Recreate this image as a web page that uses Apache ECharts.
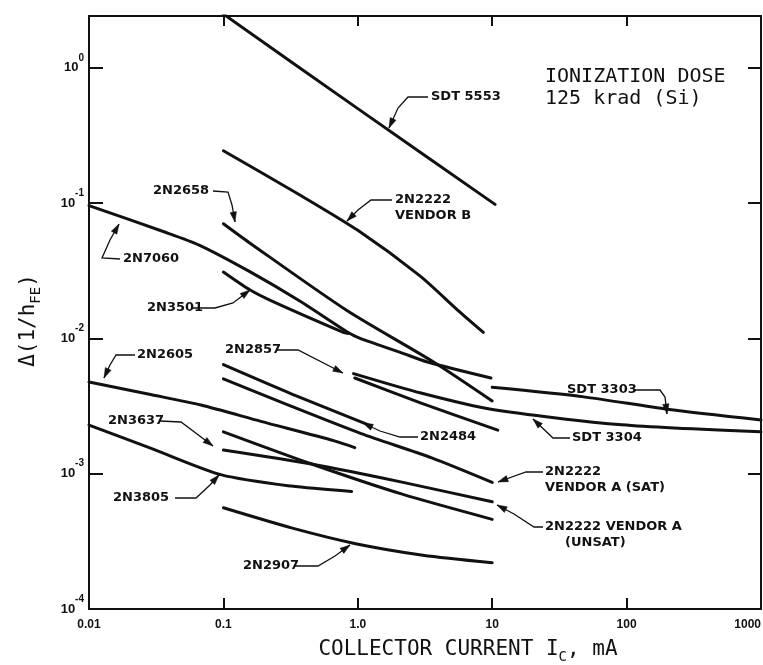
<!DOCTYPE html>
<html><head><meta charset="utf-8">
<script src="https://cdn.jsdelivr.net/npm/echarts@6/dist/echarts.min.js"></script>
<style>html,body{margin:0;padding:0;background:#fff}#c{width:763px;height:665px}</style>
</head><body><div id="c"></div>
<script>
// ---- tick labels ----
const xTickLabels = {'-2':'0.01','-1':'0.1','0':'1.0','1':'10','2':'100','3':'1000'};
const yTickExponents = {'-4':'-4','-3':'-3','-2':'-2','-1':'-1','0':'0'};

// ---- curves: [collector current mA, delta(1/hFE)] ----
const sdt5553      = [[0.1,2.5],[1,0.50],[10.5,0.098]];
const n2222VendorB = [[0.1,0.244],[0.36,0.117],[1.0,0.063],[2.9,0.029],[5.5,0.0163],[8.6,0.0111]];
const n2658        = [[0.1,0.0705],[0.155,0.0513],[0.83,0.0161],[3.66,0.0067],[10,0.00345]];
const n7060        = [[0.01,0.096],[0.037,0.061],[0.066,0.049],[0.156,0.0313],[0.37,0.0189],[0.83,0.0112],[1.04,0.0100],[2.07,0.0079],[3.3,0.0067],[9.8,0.0051]];
const n3501        = [[0.1,0.031],[0.156,0.023],[0.232,0.0188],[0.78,0.0111],[0.85,0.0109]];
const sdt3304      = [[0.93,0.0055],[2.95,0.00395],[9.8,0.0030],[92,0.0023],[1000,0.00204]];
const sdt3303      = [[10,0.00435],[48,0.0037],[200,0.0030],[1000,0.0025]];
const n2857        = [[0.95,0.0051],[2.96,0.00333],[11,0.0021]];
const n2484        = [[0.1,0.0064],[0.32,0.0039],[1.2,0.0023]];
const n2222ASat    = [[0.1,0.00503],[0.318,0.00316],[1.06,0.00198],[3.55,0.00131],[10,0.000863]];
const n2605        = [[0.01,0.00476],[0.0287,0.00385],[0.068,0.00322],[0.19,0.00244],[0.67,0.00175],[0.95,0.00156]];
const n3637        = [[0.1,0.0015],[0.453,0.00118],[2.13,0.000867],[10,0.00062]];
const n2222AUnsat  = [[0.1,0.00204],[0.453,0.00118],[2.14,0.000706],[10,0.00046]];
const n3805        = [[0.01,0.00229],[0.029,0.00154],[0.097,0.00098],[0.32,0.00081],[0.9,0.00074]];
const n2907        = [[0.1,0.00056],[0.326,0.000396],[0.964,0.000304],[3.05,0.00025],[10,0.00022]];

const curves = [
  ['SDT 5553', sdt5553], ['2N2222 VENDOR B', n2222VendorB], ['2N2658', n2658],
  ['2N7060', n7060], ['2N3501', n3501], ['SDT 3304', sdt3304], ['SDT 3303', sdt3303],
  ['2N2857', n2857], ['2N2484', n2484], ['2N2222 VENDOR A (SAT)', n2222ASat],
  ['2N2605', n2605], ['2N3637', n3637], ['2N2222 VENDOR A (UNSAT)', n2222AUnsat],
  ['2N3805', n3805], ['2N2907', n2907]
];

// ---- callout labels (text lines, indents, text anchor, leader path ending in an arrow) ----
const callouts = [
  {lines:['SDT 5553'], at:[431,97], leader:[[428,97],[408,97],[398,108],[389,128]]},
  {lines:['2N2222','VENDOR B'], at:[395,200], leader:[[392,200],[371,200],[358,210],[347,221]]},
  {lines:['2N2658'], at:[153,191], leader:[[213,191],[228,192],[232,205],[235,222]]},
  {lines:['2N7060'], at:[123,259], leader:[[120,259],[102,258],[110,240],[119,224]]},
  {lines:['2N3501'], at:[147,308], leader:[[193,308],[215,308],[233,303],[250,290]]},
  {lines:['2N2605'], at:[137,355], leader:[[135,355],[116,355],[110,365],[104,378]]},
  {lines:['2N2857'], at:[225,350], leader:[[276,350],[298,350],[343,373]]},
  {lines:['2N2484'], at:[420,437], leader:[[418,437],[400,437],[380,431],[363,423]]},
  {lines:['SDT 3303'], at:[567,390], leader:[[633,390],[660,390],[665,397],[667,414]]},
  {lines:['SDT 3304'], at:[572,438], leader:[[570,438],[553,438],[533,419]]},
  {lines:['2N2222','VENDOR A (SAT)'], at:[545,472], leader:[[543,472],[526,472],[498,482]]},
  {lines:['2N2222 VENDOR A','(UNSAT)'], indent:[0,20], at:[545,527], leader:[[543,527],[534,527],[514,514],[497,505]]},
  {lines:['2N3637'], at:[108,421], leader:[[160,421],[181,422],[213,446]]},
  {lines:['2N3805'], at:[113,498], leader:[[175,498],[196,498],[210,485],[219,475]]},
  {lines:['2N2907'], at:[243,566], leader:[[295,566],[318,566],[335,556],[350,545]]}
];

const INK = '#111';
const graphics = [];
callouts.forEach(c => {
  c.lines.forEach((t, i) => graphics.push({
    type:'text', x:c.at[0] + (c.indent ? c.indent[i] : 0), y:c.at[1] + i*16, silent:true,
    style:{text:t, fill:INK, font:'bold 13px "DejaVu Sans"', fontFamily:'DejaVu Sans', fontWeight:'bold', fontSize:13,
      align:'left', textAlign:'left', verticalAlign:'middle', textVerticalAlign:'middle'}
  }));
  graphics.push({type:'polyline', silent:true, shape:{points:c.leader},
    style:{stroke:INK, lineWidth:1.3, fill:'none'}});
  const p2 = c.leader[c.leader.length-1], p1 = c.leader[c.leader.length-2];
  let dx = p2[0]-p1[0], dy = p2[1]-p1[1]; const L = Math.hypot(dx,dy); dx/=L; dy/=L;
  const bx = p2[0]-dx*10, by = p2[1]-dy*10, nx = -dy, ny = dx;
  graphics.push({type:'polygon', silent:true,
    shape:{points:[[p2[0],p2[1]],[bx+nx*3.2,by+ny*3.2],[bx-nx*3.2,by-ny*3.2]]},
    style:{fill:INK, stroke:INK, lineWidth:0.5}});
});
graphics.push({type:'text', x:545, y:77, silent:true,
  style:{text:'IONIZATION DOSE', fill:INK, font:'20px "DejaVu Sans Mono"', fontFamily:'DejaVu Sans Mono', fontSize:20,
    align:'left', textAlign:'left', verticalAlign:'middle', textVerticalAlign:'middle'}});
graphics.push({type:'text', x:545, y:99, silent:true,
  style:{text:'125 krad (Si)', fill:INK, font:'20px "DejaVu Sans Mono"', fontFamily:'DejaVu Sans Mono', fontSize:20,
    align:'left', textAlign:'left', verticalAlign:'middle', textVerticalAlign:'middle'}});

function isDecade(v){ const e = Math.log10(v); return Math.abs(e - Math.round(e)) < 1e-6; }

const axisLineStyle = {color:INK, width:2};
const tickStyle = {color:INK, width:2};
const xBase = {type:'log', logBase:10, min:0.01, max:1000, splitLine:{show:false}, minorTick:{show:false},
  axisLine:{show:true, onZero:false, lineStyle:axisLineStyle}};
const yBase = {type:'log', logBase:10, min:1e-4, max:2.42, splitLine:{show:false}, minorTick:{show:false},
  axisLine:{show:true, onZero:false, lineStyle:axisLineStyle}};

const option = {
  backgroundColor:'#fff',
  animation:false,
  grid:{left:89, right:2, top:16, bottom:56, containLabel:false, outerBoundsMode:'none'},
  xAxis:[
    Object.assign({}, xBase, {position:'bottom',
      axisTick:{show:true, inside:true, length:11, lineStyle:tickStyle},
      axisLabel:{show:true, margin:10, color:INK, fontFamily:'Liberation Sans', fontWeight:'bold', fontSize:12,
        alignMaxLabel:'right',
        formatter:v => isDecade(v) ? (xTickLabels[String(Math.round(Math.log10(v)))] || '') : ''},
      name:'COLLECTOR CURRENT I{sub|C}, mA', nameLocation:'middle', nameGap:27,
      nameTextStyle:{color:INK, fontFamily:'DejaVu Sans Mono', fontSize:21, lineHeight:28, padding:[0,0,0,86],
        rich:{sub:{fontFamily:'DejaVu Sans Mono', fontSize:14, color:INK, verticalAlign:'bottom'}}}}),
    Object.assign({}, xBase, {position:'top',
      axisTick:{show:true, inside:true, length:10, lineStyle:tickStyle}, axisLabel:{show:false}})
  ],
  yAxis:[
    Object.assign({}, yBase, {position:'left',
      axisTick:{show:true, inside:true, length:14, lineStyle:tickStyle},
      axisLabel:{show:true, margin:5, color:INK,
        formatter:v => isDecade(v) ? ('{b|10}{s|' + (yTickExponents[String(Math.round(Math.log10(v)))] || '') + '}') : '',
        rich:{
          b:{fontFamily:'Liberation Sans', fontWeight:'bold', fontSize:13, color:INK, lineHeight:30, verticalAlign:'middle'},
          s:{fontFamily:'Liberation Sans', fontWeight:'bold', fontSize:10, color:INK, verticalAlign:'top'}
        }},
      name:'Δ(1/h{sub|FE})', nameLocation:'middle', nameGap:46,
      nameTextStyle:{color:INK, fontFamily:'DejaVu Sans Mono', fontSize:21, lineHeight:28, padding:[0,16,0,0],
        rich:{sub:{fontFamily:'DejaVu Sans Mono', fontSize:14, color:INK, verticalAlign:'bottom'}}}}),
    Object.assign({}, yBase, {position:'right',
      axisTick:{show:true, inside:true, length:13, lineStyle:tickStyle}, axisLabel:{show:false}})
  ],
  series: curves.map(([name, data]) => ({
    name, type:'line', data, xAxisIndex:0, yAxisIndex:0,
    showSymbol:false, symbol:'none', smooth:0.25, clip:true,
    lineStyle:{color:INK, width:3, cap:'round', join:'round'}
  })),
  graphic: graphics
};

const chart = echarts.init(document.getElementById('c'), null, {renderer:'canvas'});
chart.setOption(option);
</script>
</body></html>
